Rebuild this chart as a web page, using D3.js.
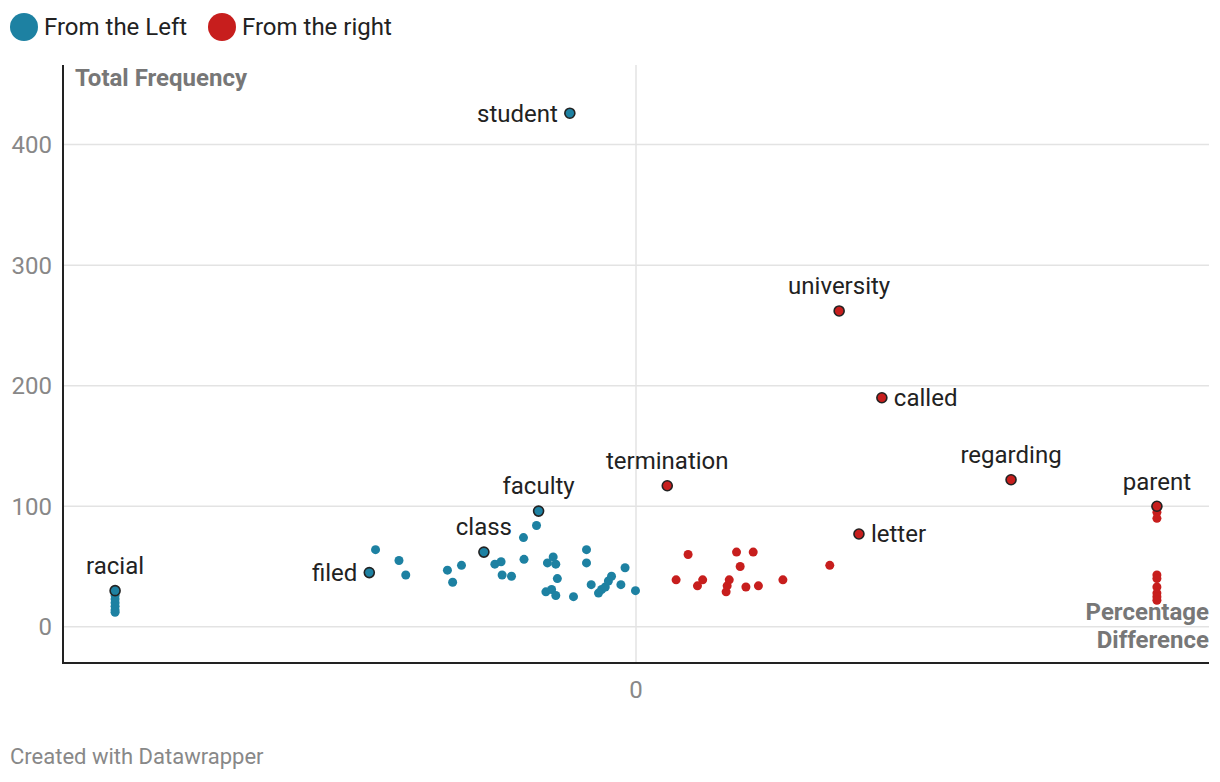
<!DOCTYPE html>
<html>
<head>
<meta charset="utf-8">
<title>Percentage Difference vs Total Frequency</title>
<style>
    body { margin: 0; background: #fff; font-family: Roboto, "Noto Sans", sans-serif; }
</style>
</head>
<body>
<svg id="chart" width="1220" height="782"></svg>
<script src="https://cdn.jsdelivr.net/npm/d3@7"></script>
<script>
// labelled words: [word, % difference, total frequency]
var leftLabels = [
    ["racial", -100, 30],
    ["student", -12.7, 426],
    ["faculty", -18.7, 96],
    ["class", -29.2, 62],
    ["filed", -51.2, 45]
];
var rightLabels = [
    ["termination", 6.0, 117],
    ["university", 39.0, 262],
    ["called", 47.2, 190],
    ["regarding", 72.0, 122],
    ["letter", 42.8, 77],
    ["parent", 100, 100]
];
// unlabelled words
var leftX = [-100, -100, -100, -100, -100, -100,
    -50.0, -45.5, -44.2, -36.2, -35.2, -33.5, -27.1, -25.9, -25.7, -23.9,
    -21.6, -21.5, -19.1, -17.0, -15.9, -15.4, -15.1, -17.3, -16.2, -15.4,
    -12.0, -9.5, -9.5, -8.6, -7.2, -6.6, -5.9, -5.3, -4.7, -2.1, -2.9, -0.1];
var leftY = [26, 23, 20, 17, 14, 12,
    64, 55, 43, 47, 37, 51, 52, 54, 43, 42,
    74, 56, 84, 53, 58, 52, 40, 29, 31, 26,
    25, 64, 53, 35, 28, 31, 33, 38, 42, 49, 35, 30];
var rightX = [10.0, 7.7, 11.8, 12.8, 17.3, 17.5, 17.9, 19.3, 22.5, 20.0, 21.1, 23.5, 28.2, 37.2,
    100, 100, 100, 100, 100, 100, 100, 100];
var rightY = [60, 39, 34, 39, 29, 34, 39, 62, 62, 50, 33, 34, 39, 51,
    95, 90, 43, 40, 33, 28, 25, 22];
var yTicks = [0, 100, 200, 300, 400];
var xTicks = [0];
var seriesNames = ["From the Left", "From the right"];
var colors = ["#1d81a2", "#c71e1d"];

var svg = d3.select("#chart");
var x = d3.scaleLinear().domain([-110, 110]).range([63, 1209]);
var y = d3.scaleLinear().domain([-30, 466]).range([663, 65]);

// grid
svg.append("g").selectAll("line").data(yTicks).enter().append("line")
    .attr("x1", 63).attr("x2", 1209)
    .attr("y1", function(d){ return y(d); }).attr("y2", function(d){ return y(d); })
    .attr("stroke", "#e3e3e3").attr("stroke-width", 1.5);
svg.append("g").selectAll("line").data(xTicks).enter().append("line")
    .attr("x1", function(d){ return x(d); }).attr("x2", function(d){ return x(d); })
    .attr("y1", 65).attr("y2", 663)
    .attr("stroke", "#e3e3e3").attr("stroke-width", 1.5);

// tick labels
svg.append("g").selectAll("text").data(yTicks).enter().append("text")
    .attr("x", 52).attr("y", function(d){ return y(d); })
    .attr("dy", "0.35em").attr("text-anchor", "end")
    .attr("font-size", 24).attr("fill", "#888")
    .text(function(d){ return d; });
svg.append("g").selectAll("text").data(xTicks).enter().append("text")
    .attr("x", function(d){ return x(d); }).attr("y", 690)
    .attr("dy", "0.35em").attr("text-anchor", "middle")
    .attr("font-size", 24).attr("fill", "#888")
    .text(function(d){ return d; });

// axis lines
svg.append("line").attr("x1", 63).attr("x2", 63).attr("y1", 65).attr("y2", 664)
    .attr("stroke", "#222").attr("stroke-width", 2);
svg.append("line").attr("x1", 62).attr("x2", 1209).attr("y1", 663).attr("y2", 663)
    .attr("stroke", "#222").attr("stroke-width", 2);

// axis titles
svg.append("text").attr("x", 75).attr("y", 78).attr("dy", "0.35em")
    .attr("font-size", 24).attr("font-weight", "bold").attr("fill", "#777")
    .text("Total Frequency");
svg.append("text").attr("x", 1209).attr("y", 612).attr("dy", "0.35em")
    .attr("text-anchor", "end")
    .attr("font-size", 24).attr("font-weight", "bold").attr("fill", "#777")
    .text("Percentage");
svg.append("text").attr("x", 1209).attr("y", 640).attr("dy", "0.35em")
    .attr("text-anchor", "end")
    .attr("font-size", 24).attr("font-weight", "bold").attr("fill", "#777")
    .text("Difference");

// dots
var plain = [leftX, rightX];
var plainY = [leftY, rightY];
[0, 1].forEach(function(s){
    svg.append("g").selectAll("circle").data(plain[s]).enter().append("circle")
        .attr("cx", function(d){ return x(d); })
        .attr("cy", function(d, i){ return y(plainY[s][i]); })
        .attr("r", 4.5)
        .attr("fill", colors[s]);
});
var labelled = [leftLabels, rightLabels];
[0, 1].forEach(function(s){
    svg.append("g").selectAll("circle").data(labelled[s]).enter().append("circle")
        .attr("cx", function(d){ return x(d[1]); })
        .attr("cy", function(d){ return y(d[2]); })
        .attr("r", 5)
        .attr("fill", colors[s])
        .attr("stroke", "#222").attr("stroke-width", 1.6);
});

// labels: position relative to the dot
var placement = {
    racial: "top", student: "left", faculty: "top", "class": "top", filed: "left",
    termination: "top", university: "top", called: "right", regarding: "top",
    letter: "right", parent: "top"
};
var allLabels = leftLabels.concat(rightLabels);
svg.append("g").selectAll("text").data(allLabels).enter().append("text")
    .attr("x", function(d){
        var p = placement[d[0]];
        if (p == "left") return x(d[1]) - 12;
        if (p == "right") return x(d[1]) + 12;
        return x(d[1]);
    })
    .attr("y", function(d){
        var p = placement[d[0]];
        return p == "top" ? y(d[2]) - 25 : y(d[2]);
    })
    .attr("dy", "0.35em")
    .attr("text-anchor", function(d){
        var p = placement[d[0]];
        if (p == "left") return "end";
        if (p == "right") return "start";
        return "middle";
    })
    .attr("font-size", 24).attr("fill", "#222")
    .text(function(d){ return d[0]; });

// legend
var legend = svg.append("g");
var lx = [24, 222];
legend.selectAll("circle").data(seriesNames).enter().append("circle")
    .attr("cx", function(d, i){ return lx[i]; }).attr("cy", 27).attr("r", 14)
    .attr("fill", function(d, i){ return colors[i]; });
legend.selectAll("text").data(seriesNames).enter().append("text")
    .attr("x", function(d, i){ return lx[i] + 20; }).attr("y", 27).attr("dy", "0.35em")
    .attr("font-size", 24).attr("fill", "#222")
    .text(function(d){ return d; });

// footer
svg.append("text").attr("x", 10).attr("y", 756).attr("dy", "0.35em")
    .attr("font-size", 22).attr("fill", "#888")
    .text("Created with Datawrapper");
</script>
</body>
</html>
